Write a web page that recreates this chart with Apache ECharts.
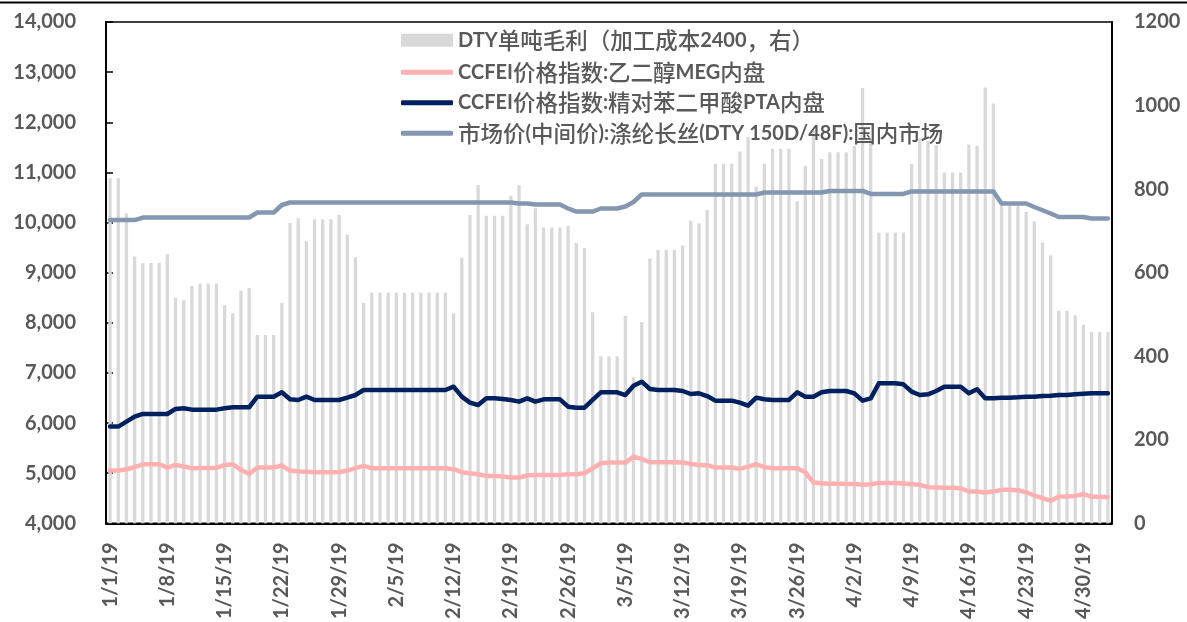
<!DOCTYPE html>
<html>
<head>
<meta charset="utf-8">
<script src="https://cdn.jsdelivr.net/npm/echarts/dist/echarts.min.js"></script>
<style>
html,body{margin:0;padding:0;background:#fff;}
#c{width:1187px;height:622px;}
</style>
</head>
<body>
<div id="c"></div>
<script>
const categories = [
'1/1/19','1/2/19','1/3/19','1/4/19','1/5/19','1/6/19','1/7/19','1/8/19','1/9/19','1/10/19','1/11/19','1/12/19','1/13/19','1/14/19','1/15/19','1/16/19','1/17/19','1/18/19','1/19/19','1/20/19','1/21/19','1/22/19','1/23/19','1/24/19','1/25/19','1/26/19','1/27/19','1/28/19','1/29/19','1/30/19','1/31/19',
'2/1/19','2/2/19','2/3/19','2/4/19','2/5/19','2/6/19','2/7/19','2/8/19','2/9/19','2/10/19','2/11/19','2/12/19','2/13/19','2/14/19','2/15/19','2/16/19','2/17/19','2/18/19','2/19/19','2/20/19','2/21/19','2/22/19','2/23/19','2/24/19','2/25/19','2/26/19','2/27/19','2/28/19',
'3/1/19','3/2/19','3/3/19','3/4/19','3/5/19','3/6/19','3/7/19','3/8/19','3/9/19','3/10/19','3/11/19','3/12/19','3/13/19','3/14/19','3/15/19','3/16/19','3/17/19','3/18/19','3/19/19','3/20/19','3/21/19','3/22/19','3/23/19','3/24/19','3/25/19','3/26/19','3/27/19','3/28/19','3/29/19','3/30/19','3/31/19',
'4/1/19','4/2/19','4/3/19','4/4/19','4/5/19','4/6/19','4/7/19','4/8/19','4/9/19','4/10/19','4/11/19','4/12/19','4/13/19','4/14/19','4/15/19','4/16/19','4/17/19','4/18/19','4/19/19','4/20/19','4/21/19','4/22/19','4/23/19','4/24/19','4/25/19','4/26/19','4/27/19','4/28/19','4/29/19','4/30/19',
'5/1/19','5/2/19','5/3/19'
];

const seriesNames = [
  'DTY单吨毛利（加工成本2400，右）',
  'CCFEI价格指数:乙二醇MEG内盘',
  'CCFEI价格指数:精对苯二甲酸PTA内盘',
  '市场价(中间价):涤纶长丝(DTY 150D/48F):国内市场'
];

// DTY gross profit per ton (right axis)
const dtyProfit = [
  826, 826, 742, 639, 623, 623, 623, 644, 540, 534,
  568, 574, 574, 574, 522, 503, 557, 563, 451, 451,
  451, 528, 719, 730, 675, 728, 728, 728, 738, 691,
  637, 528, 552, 552, 552, 552, 552, 552, 552, 552,
  552, 552, 502, 636, 738, 810, 736, 736, 736, 784,
  809, 716, 754, 708, 708, 708, 712, 671, 659, 505,
  400, 400, 400, 497, 350, 482, 634, 654, 654, 654,
  665, 724, 718, 750, 861, 861, 861, 890, 925, 806,
  861, 896, 896, 896, 771, 856, 940, 872, 888, 888,
  888, 904, 1042, 920, 696, 696, 696, 696, 860, 922,
  915, 905, 840, 840, 840, 907, 904, 1043, 1005, 760,
  760, 760, 746, 723, 672, 641, 509, 509, 498, 475,
  458, 458, 458
];

// MEG price (left axis)
const megPrice = [
  5053, 5053, 5080, 5120, 5179, 5179, 5179, 5113, 5166, 5133,
  5100, 5106, 5106, 5106, 5166, 5179, 5066, 4987, 5113, 5113,
  5113, 5153, 5053, 5033, 5027, 5020, 5020, 5020, 5020, 5053,
  5100, 5146, 5100, 5100, 5100, 5100, 5100, 5100, 5100, 5100,
  5100, 5100, 5080, 5020, 5000, 4980, 4947, 4947, 4934, 4914,
  4914, 4954, 4967, 4967, 4967, 4967, 4980, 4980, 5000, 5100,
  5199, 5212, 5212, 5212, 5332, 5285, 5219, 5219, 5219, 5219,
  5212, 5186, 5166, 5160, 5113, 5113, 5113, 5086, 5133, 5179,
  5120, 5100, 5100, 5100, 5100, 5020, 4814, 4801, 4788, 4788,
  4785, 4785, 4768, 4781, 4807, 4807, 4807, 4797, 4781, 4768,
  4721, 4714, 4710, 4710, 4701, 4635, 4635, 4615, 4635, 4668,
  4668, 4661, 4621, 4555, 4502, 4449, 4535, 4535, 4548, 4582,
  4535, 4528, 4528
];

// PTA price (left axis)
const ptaPrice = [
  5930, 5930, 6029, 6129, 6182, 6182, 6182, 6182, 6282, 6295,
  6268, 6268, 6268, 6268, 6295, 6315, 6315, 6315, 6527, 6527,
  6527, 6614, 6474, 6461, 6527, 6461, 6461, 6461, 6461, 6507,
  6560, 6660, 6660, 6660, 6660, 6660, 6660, 6660, 6660, 6660,
  6660, 6660, 6726, 6527, 6408, 6361, 6494, 6494, 6480, 6461,
  6428, 6494, 6428, 6474, 6474, 6474, 6328, 6308, 6308, 6461,
  6614, 6614, 6614, 6560, 6746, 6826, 6680, 6660, 6660, 6660,
  6640, 6580, 6594, 6540, 6448, 6448, 6448, 6408, 6348, 6507,
  6474, 6461, 6461, 6461, 6614, 6527, 6527, 6614, 6640, 6640,
  6640, 6594, 6448, 6494, 6793, 6793, 6793, 6773, 6627, 6560,
  6574, 6640, 6726, 6726, 6726, 6594, 6673, 6494, 6494, 6507,
  6507, 6514, 6527, 6527, 6540, 6545, 6560, 6560, 6574, 6587,
  6594, 6594, 6594
];

// DTY 150D/48F market price (left axis)
const dtyPrice = [
  10050, 10050, 10050, 10050, 10100, 10100, 10100, 10100, 10100, 10100,
  10100, 10100, 10100, 10100, 10100, 10100, 10100, 10100, 10200, 10200,
  10200, 10350, 10400, 10400, 10400, 10400, 10400, 10400, 10400, 10400,
  10400, 10400, 10400, 10400, 10400, 10400, 10400, 10400, 10400, 10400,
  10400, 10400, 10400, 10400, 10400, 10400, 10400, 10400, 10400, 10400,
  10380, 10380, 10360, 10360, 10360, 10360, 10280, 10220, 10220, 10220,
  10280, 10280, 10280, 10320, 10410, 10560, 10560, 10560, 10560, 10560,
  10560, 10560, 10560, 10560, 10560, 10560, 10560, 10560, 10560, 10560,
  10600, 10600, 10600, 10600, 10600, 10600, 10600, 10600, 10630, 10630,
  10630, 10630, 10630, 10570, 10570, 10570, 10570, 10570, 10620, 10620,
  10620, 10620, 10620, 10620, 10620, 10620, 10620, 10620, 10620, 10380,
  10380, 10380, 10380, 10310, 10245, 10180, 10110, 10110, 10110, 10110,
  10080, 10080, 10080
];

const leftTicks = {min: 4000, max: 14000, interval: 1000};
const rightTicks = {min: 0, max: 1200, interval: 200};

const FONT = 'Lato, "Noto Sans CJK SC", sans-serif';
const CJK_FONT = '"Noto Sans CJK SC", sans-serif';
const GREY_TEXT = '#595959';

const legendText = {
  color: GREY_TEXT, fontSize: 20, fontWeight: 'bold', fontFamily: FONT,
  rich: {
    c: {color: GREY_TEXT, fontSize: 22.5, fontWeight: 500, fontFamily: CJK_FONT}
  }
};
const legendFormatter = name => name.replace(/([^\x00-\x7f]+)/g, '{c|$1}');

const chart = echarts.init(document.getElementById('c'), null, {renderer: 'canvas'});
chart.setOption({
  animation: false,
  backgroundColor: '#ffffff',
  textStyle: {fontFamily: FONT},
  graphic: [{
    type: 'rect', shape: {x: 0, y: 1.5, width: 1187, height: 2}, style: {fill: '#000'}, silent: true
  }],
  grid: {
    left: 106, right: 75, top: 22, bottom: 96,
    show: true, borderColor: '#000', borderWidth: 1.5, backgroundColor: 'transparent'
  },
  legend: [{
    data: [seriesNames[0]],
    left: 396, top: 24,
    itemWidth: 52, itemHeight: 13,
    icon: 'rect',
    formatter: legendFormatter,
    textStyle: legendText
  }, {
    data: [seriesNames[1], seriesNames[2], seriesNames[3]],
    orient: 'vertical',
    left: 396, top: 56, itemGap: 8,
    itemWidth: 52, itemHeight: 5,
    icon: 'roundRect',
    formatter: legendFormatter,
    textStyle: legendText
  }],
  xAxis: {
    type: 'category',
    data: categories,
    boundaryGap: true,
    axisLine: {lineStyle: {color: '#000', width: 2}},
    axisTick: {show: false},
    axisLabel: {
      interval: 6, rotate: 90, margin: 19,
      color: GREY_TEXT, fontSize: 20, fontWeight: 'bold', fontFamily: FONT
    },
    splitLine: {show: false}
  },
  yAxis: [{
    type: 'value',
    min: leftTicks.min, max: leftTicks.max, interval: leftTicks.interval,
    axisLine: {show: true, lineStyle: {color: '#000', width: 2}},
    axisTick: {show: true, inside: true, length: 7, lineStyle: {color: '#000', width: 1.5}},
    axisLabel: {
      margin: 30, color: GREY_TEXT, fontSize: 20, fontWeight: 'bold', fontFamily: FONT,
      formatter: v => v.toLocaleString('en-US')
    },
    splitLine: {show: false}
  }, {
    type: 'value',
    position: 'right',
    min: rightTicks.min, max: rightTicks.max, interval: rightTicks.interval,
    axisLine: {show: true, lineStyle: {color: '#000', width: 2}},
    axisTick: {show: false},
    axisLabel: {
      margin: 22, color: GREY_TEXT, fontSize: 20, fontWeight: 'bold', fontFamily: FONT,
      formatter: v => String(v)
    },
    splitLine: {show: false}
  }],
  series: [{
    name: seriesNames[0],
    type: 'bar',
    yAxisIndex: 1,
    data: dtyProfit,
    barWidth: 3.3,
    itemStyle: {color: '#d9d9d9'},
    z: 1
  }, {
    name: seriesNames[1],
    type: 'line',
    yAxisIndex: 0,
    data: megPrice,
    symbol: 'none',
    itemStyle: {color: '#ffb0b0'},
    lineStyle: {color: '#ffb0b0', width: 4.5, cap: 'round', join: 'round'},
    z: 3
  }, {
    name: seriesNames[2],
    type: 'line',
    yAxisIndex: 0,
    data: ptaPrice,
    symbol: 'none',
    itemStyle: {color: '#002060'},
    lineStyle: {color: '#002060', width: 4.5, cap: 'round', join: 'round'},
    z: 3
  }, {
    name: seriesNames[3],
    type: 'line',
    yAxisIndex: 0,
    data: dtyPrice,
    symbol: 'none',
    itemStyle: {color: '#8497b0'},
    lineStyle: {color: '#8497b0', width: 4.5, cap: 'round', join: 'round'},
    z: 3
  }]
});
</script>
</body>
</html>
